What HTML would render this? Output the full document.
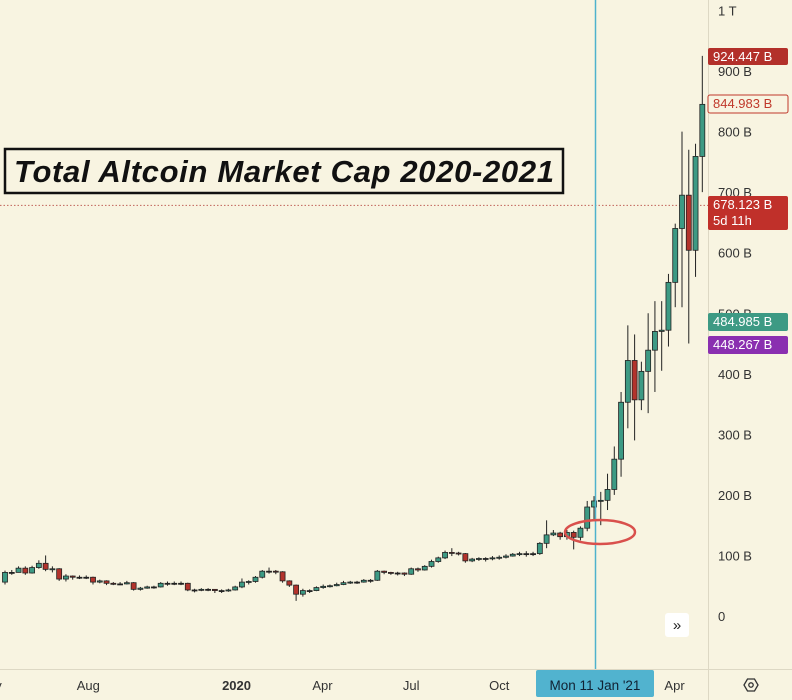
<!DOCTYPE html>
<html><head><meta charset="utf-8"><style>
body{margin:0;background:#f8f4e1;font-family:"Liberation Sans",sans-serif;}
#wrap{position:relative;width:792px;height:700px;overflow:hidden;background:#f8f4e1;}
svg{position:absolute;left:0;top:0;}
</style></head><body>
<div id="wrap">
<svg id="chart" width="792" height="700"></svg>
</div>
<script>
const closes=[72,72,79,71,80,87,77,78,61,66,64,64,64,56,58,54,53,53,55,44,46,48,48,54,54,54,54,43,43,44,44,42,42,43,48,56,57,64,74,74,73,58,51,36,42,42,47,49,50,52,55,56,56,59,59,74,72,71,71,
69,78,76,82,90,96,105,104,103,91,94,95,95,96,97,99,102,103,103,103,120,134,137,131,138,130,145,180,190,
191,209,259,353,422,357,404,439,470,472,551,640,695,604,759,845];
const firstOpen=56;
const highs=[75,76,82,82,83,92,100,82,79,69,67,67,67,65,60,59,56,56,58,56,48,50,50,56,57,57,57,55,45,46,46,44,44,45,50,62,59,66,76,80,76,74,59,52,45,44,49,52,52,55,58,58,58,61,61,76,75,73,73,
72,80,80,84,93,98,108,112,106,104,96,97,97,99,100,102,104,106,107,106,122,158,142,139,142,141,148,190,198,
205,235,280,370,480,465,420,500,520,520,565,648,800,770,780,925];
const lows=[52,68,72,68,70,78,74,72,58,57,60,61,61,52,54,51,51,51,52,42,42,45,45,47,50,51,51,41,39,41,41,38,38,40,42,46,52,55,62,70,69,55,48,25,32,38,41,45,47,49,51,53,53,55,55,58,69,68,67,
66,68,73,75,80,88,94,99,100,88,89,91,90,92,93,95,98,99,98,99,101,112,132,126,126,110,125,140,160,
150,175,200,230,310,290,340,335,370,405,445,510,510,450,560,700];
const yTicks=[0,100,200,300,400,500,600,700,800,900,1000];
const yTickLabels=["0","100 B","200 B","300 B","400 B","500 B","600 B","700 B","800 B","900 B","1 T"];
const xLabels=["ay","Aug","2020","Apr","Jul","Oct","Apr"];
const xLabelIdx=[-1.5,12.3,34.2,46.9,60,73,98.9];

const NS="http://www.w3.org/2000/svg";
const svg=document.getElementById('chart');
function Y(v){return 616-v*0.6055;}
function X(i){return 5+i*6.77;}
function mk(t,a,p){const e=document.createElementNS(NS,t);for(const k in a)e.setAttribute(k,a[k]);(p||svg).appendChild(e);return e;}

// axis frame
let e;
e=mk('line',{x1:708.5,y1:0,x2:708.5,y2:700,stroke:'#ddd8c4','stroke-width':1});

e=mk('line',{x1:0,y1:669.5,x2:792,y2:669.5,stroke:'#ddd8c4','stroke-width':1});


// y ticks
yTicks.forEach((v,k)=>{const t=mk('text',{x:718,y:Y(v)+5,'font-size':13,fill:'#333'});t.textContent=yTickLabels[k];
});
// x labels
xLabels.forEach((s,k)=>{const t=mk('text',{x:X(xLabelIdx[k]),y:690,'font-size':13,fill:'#333','text-anchor':'middle','font-weight':s==='2020'?'bold':'normal'});t.textContent=s;
});

// dotted price line
e=mk('line',{x1:0,y1:Y(678.123),x2:708,y2:Y(678.123),stroke:'#c0625a','stroke-width':1,'stroke-dasharray':'1.5 2'});


// candles
closes.forEach((c,i)=>{
  const o=i===0?firstOpen:closes[i-1];
  const x=X(i);
  const g=mk('g',{});
  
  mk('line',{x1:x,x2:x,y1:Y(highs[i]),y2:Y(lows[i]),stroke:'#222','stroke-width':1},g);
  const top=Y(Math.max(o,c)),bot=Y(Math.min(o,c));
  const h=Math.max(1,bot-top);
  const col=c>o?'#3d9a84':(c<o?'#b3332c':'#222');
  mk('rect',{x:x-2.5,y:top,width:5,height:h,fill:col,stroke:'#222','stroke-width':0.8},g);
});

// crosshair
e=mk('line',{x1:595.5,y1:0,x2:595.5,y2:669,stroke:'#4eb2cc','stroke-width':1.5});

// ellipse annotation
e=mk('ellipse',{cx:600,cy:532,rx:35,ry:12,fill:'none',stroke:'#d9504c','stroke-width':2.5});


// price tags
function tag(y,h,bg,txt,fg,border,name){
  const g=mk('g',{});
  mk('rect',{x:708,y:y,width:80,height:h,rx:2,fill:bg,stroke:border||'none','stroke-width':1},g);
  txt.forEach((s,k)=>{const t=mk('text',{x:713,y:y+13+k*16,'font-size':13,fill:fg},g);t.textContent=s;});
}
tag(48,17,'#b3302a',['924.447 B'],'#fff',null,'high-price-tag');
tag(95,18,'#f8f4e1',['844.983 B'],'#c0392b','#c0392b','close-price-tag');
tag(196,34,'#c0302a',['678.123 B','5d 11h'],'#fff',null,'last-price-tag');
tag(313,18,'#3d9a84',['484.985 B'],'#fff',null,'green-price-tag');
tag(336,18,'#8a2fb0',['448.267 B'],'#fff',null,'purple-price-tag');

// title
const tg=mk('g',{});
mk('rect',{x:5,y:149,width:558,height:44,fill:'#f8f4e1',stroke:'#111','stroke-width':2.5},tg);
const tt=mk('text',{x:14,y:182,'font-size':31,'font-weight':'bold','font-style':'italic',fill:'#111',textLength:540},tg);
tt.textContent='Total Altcoin Market Cap 2020-2021';

// date label
const dg=mk('g',{});
mk('rect',{x:536,y:670,width:118,height:27,rx:2,fill:'#51b3cf'},dg);
const dt=mk('text',{x:595,y:690,'font-size':13.5,fill:'#123','text-anchor':'middle'},dg);dt.textContent="Mon 11 Jan '21";

// scroll button
const bg=mk('g',{});
mk('rect',{x:665,y:613,width:24,height:24,rx:3,fill:'#fff'},bg);
const bt=mk('text',{x:677,y:630,'font-size':15,'text-anchor':'middle',fill:'#222'},bg);bt.textContent='»';

// settings gear
const gg=mk('g',{});
mk('polygon',{points:'744,685 747.5,679 754.5,679 758,685 754.5,691 747.5,691',fill:'none',stroke:'#333','stroke-width':1.3},gg);
mk('circle',{cx:751,cy:685,r:2.2,fill:'none',stroke:'#333','stroke-width':1.3},gg);
</script>
</body></html>
